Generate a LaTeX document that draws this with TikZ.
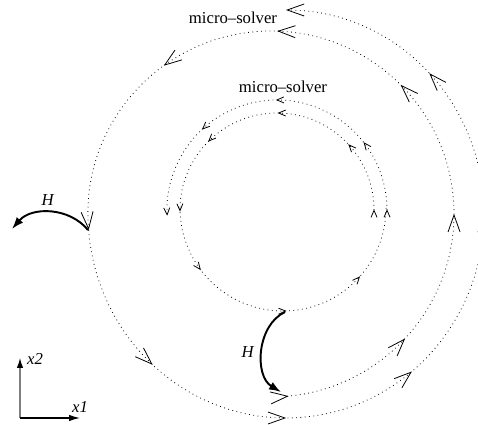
\documentclass[tikz,border=0pt]{standalone}
\usepackage{fontspec}
\setmainfont{Liberation Serif}
\usepackage{tikz}
\usetikzlibrary{arrows.meta, decorations.markings}

\tikzset{
  bigbarb/.tip={Straight Barb[length=3.4mm, width=2.4mm]},
  smallbarb/.tip={Straight Barb[length=1.4mm, width=1.2mm]},
  orbit/.style={dotted, line width=0.45pt, postaction=decorate, decoration=markings},
  bigmark/.style={decoration={mark=at position #1 with {\arrow{bigbarb}}}},
  smallmark/.style={decoration={mark=at position #1 with {\arrow{smallbarb}}}},
  hflow/.style={line width=1.1pt, -{Latex[length=2.4mm, width=1.7mm]}},
}

\begin{document}
\begin{tikzpicture}[x=0.02cm, y=0.02cm, font=\fontsize{9.5pt}{11pt}\selectfont]
                        \useasboundingbox (0,0) rectangle (478,425);
                        \draw[orbit, bigmark/.list={0.002,0.156,0.315,0.481,0.641,0.781}, -{bigbarb}]
                        (271,211) ++(-85:183) arc[start angle=-85, end angle=185, radius=183];
                        \draw[orbit, bigmark/.list={0.164,0.322,0.469,0.661,0.827}, -{bigbarb}]
                        (286,211) ++(184.5:198 and 204) arc[start angle=184.5, end angle=450, x radius=198, y radius=204];
                        \draw[orbit, smallmark/.list={0.206,0.511,0.769}]
                        (283,217) ++(180:103) arc[start angle=180, end angle=360, radius=103];
                        \draw[orbit, smallmark/.list={0.002,0.208,0.495,0.727}, -{smallbarb}]
                        (277,215) ++(0:110) arc[start angle=0, end angle=183, radius=110];
                        \draw[orbit, smallmark/.list={0.002,0.236,0.495,0.747}, -{smallbarb}]
                        (277,215) ++(0:97) arc[start angle=0, end angle=181, radius=97];
                        \node (outlabel) at (233,407) {micro--solver};
                        \node (inlabel) at (283,338) {micro--solver};
                        \coordinate (inbot) at (285,113);
                        \coordinate (outbot) at (281,33);
                        \coordinate (outleft) at (88,195);
                        \coordinate (farleft) at (12,196);
                        \draw[hflow] (inbot) to[bend right=62] (outbot);
                        \draw[hflow] (outleft) to[bend right=50] (farleft);
                        \node (h1) at (248,73) {\textit{H}};
                        \node (h2) at (48,225) {\textit{H}};
                        \coordinate (o) at (20,7);
                        \coordinate (ex) at (80,7);
                        \coordinate (ey) at (20,67);
                        \draw[gray, line width=0.7pt, -{Latex[length=2mm, width=1.3mm, color=black]}] (o) -- (ey);
                        \draw[line width=0.7pt, -{Latex[length=2.2mm, width=1.3mm]}] (o) -- (ex);
                        \node (x2) at (35,66) {\textit{x2}};
                        \node (x1) at (80,18) {\textit{x1}};
                    \end{tikzpicture}
\end{document}
